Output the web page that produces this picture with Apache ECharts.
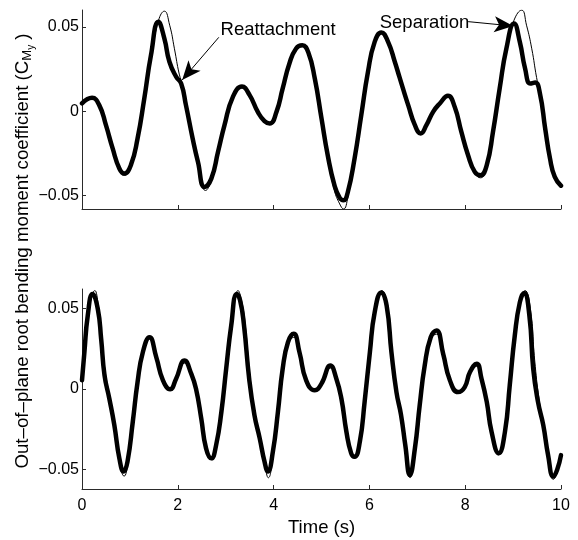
<!DOCTYPE html>
<html>
<head>
<meta charset="utf-8">
<script src="https://cdn.jsdelivr.net/npm/echarts@6/dist/echarts.min.js"></script>
<style>
html,body{margin:0;padding:0;background:#fff;}
#c{width:578px;height:540px;}
</style>
</head>
<body>
<div id="c"></div>
<script>
// ---- data (time s, C_My) ----
const xTicks = [0, 2, 4, 6, 8, 10];
const yTicks = [-0.05, 0, 0.05];

const topThick = [
[0,0.0046],[0.21,0.0079],[0.36,0.0036],[0.5,-0.0083],[0.64,-0.0221],[0.78,-0.034],[0.88,-0.037],
[1.02,-0.032],[1.16,-0.0162],[1.30,0.0075],[1.44,0.0332],[1.595,0.053],[1.72,0.043],[1.825,0.0293],
[1.965,0.0204],[2.07,0.0164],[2.17,0.0036],[2.31,-0.0162],[2.42,-0.030],[2.56,-0.0449],[2.70,-0.040],
[2.84,-0.0241],[2.975,-0.0083],[3.15,0.0085],[3.34,0.0146],[3.50,0.0095],[3.67,-0.0004],[3.81,-0.0059],
[3.92,-0.0073],[4.06,-0.0004],[4.19,0.0135],[4.33,0.0283],[4.47,0.0372],[4.60,0.0391],[4.72,0.0352],
[4.86,0.0194],[5.00,-0.0043],[5.13,-0.0261],[5.27,-0.0439],[5.38,-0.0514],[5.46,-0.0528],[5.55,-0.0479],
[5.69,-0.0281],[5.83,-0.0024],[5.97,0.0233],[6.11,0.0411],[6.25,0.0467],[6.39,0.0411],[6.53,0.0293],
[6.63,0.020],[6.70,0.0135],[6.81,0.0036],[6.95,-0.0083],[7.07,-0.0132],[7.19,-0.0083],[7.33,-0.0004],
[7.47,0.0046],[7.64,0.0091],[7.78,0.0026],[7.92,-0.0123],[8.06,-0.0261],[8.20,-0.036],[8.32,-0.038],
[8.45,-0.032],[8.58,-0.0123],[8.72,0.0135],[8.86,0.0372],[9.02,0.052],[9.14,0.0411],[9.25,0.0253],
[9.36,0.0164],[9.46,0.017],[9.56,0.0105],[9.67,-0.0103],[9.77,-0.028],[9.87,-0.039],[10.0,-0.0442]
];

const topThin = [
[0,0.0046],[0.21,0.0077],[0.36,0.0034],[0.5,-0.0085],[0.64,-0.0225],[0.78,-0.035],[0.88,-0.038],
[1.02,-0.033],[1.16,-0.0175],[1.30,0.005],[1.44,0.031],[1.60,0.054],[1.72,0.0593],[1.83,0.051],
[1.93,0.037],[2.03,0.022],[2.10,0.0155],[2.17,0.0036],[2.31,-0.0165],[2.42,-0.031],[2.58,-0.047],
[2.70,-0.041],[2.84,-0.0245],[2.975,-0.0085],[3.15,0.0083],[3.34,0.0144],[3.50,0.0093],[3.67,-0.0006],
[3.81,-0.0062],[3.92,-0.0076],[4.06,-0.0006],[4.19,0.0133],[4.33,0.0281],[4.47,0.0372],[4.60,0.0393],
[4.72,0.0352],[4.86,0.0192],[5.00,-0.0048],[5.13,-0.0275],[5.27,-0.047],[5.38,-0.055],[5.46,-0.058],
[5.55,-0.051],[5.69,-0.029],[5.83,-0.0028],[5.97,0.0231],[6.11,0.0411],[6.25,0.0472],[6.39,0.0413],
[6.53,0.0293],[6.63,0.020],[6.70,0.0133],[6.81,0.0034],[6.95,-0.0085],[7.07,-0.0134],[7.19,-0.0085],
[7.33,-0.0006],[7.47,0.0044],[7.64,0.0089],[7.78,0.0024],[7.92,-0.0125],[8.06,-0.0265],[8.20,-0.0368],
[8.32,-0.0395],[8.45,-0.033],[8.58,-0.0125],[8.72,0.0133],[8.86,0.0372],[9.02,0.054],[9.18,0.0599],
[9.28,0.051],[9.39,0.037],[9.49,0.020],[9.56,0.0105],[9.67,-0.0105],[9.77,-0.0285],[9.87,-0.040],[10.0,-0.045]
];

const botThick = [
[0,0.0054],[0.05,0.0228],[0.12,0.0455],[0.22,0.0589],[0.33,0.0496],[0.40,0.031],[0.47,0.0085],
[0.57,-0.0059],[0.675,-0.0224],[0.78,-0.043],[0.87,-0.0512],[0.95,-0.045],[1.06,-0.0204],[1.16,0.0043],
[1.27,0.0228],[1.41,0.0321],[1.55,0.0198],[1.69,0.0054],[1.84,-0.0002],[1.965,0.0064],[2.14,0.0177],
[2.28,0.0095],[2.38,0.0002],[2.49,-0.0183],[2.59,-0.0368],[2.70,-0.043],[2.80,-0.0348],[2.91,-0.0142],
[3.01,0.0126],[3.115,0.0393],[3.23,0.0589],[3.30,0.055],[3.38,0.040],[3.49,0.0064],[3.60,-0.0162],
[3.71,-0.0306],[3.81,-0.045],[3.88,-0.0512],[3.985,-0.0389],[4.09,-0.0142],[4.19,0.0126],[4.30,0.029],
[4.42,0.0342],[4.54,0.0228],[4.68,0.0054],[4.86,-0.0008],[5.00,0.0033],[5.185,0.0146],[5.31,0.0064],
[5.415,-0.0059],[5.52,-0.0265],[5.62,-0.0399],[5.69,-0.042],[5.80,-0.0327],[5.90,-0.008],[6.01,0.0228],
[6.11,0.0475],[6.25,0.0599],[6.36,0.0517],[6.46,0.0228],[6.565,-0.002],[6.66,-0.016],[6.75,-0.035],
[6.845,-0.0533],[6.95,-0.0368],[7.05,-0.0101],[7.155,0.0146],[7.28,0.0321],[7.40,0.0362],[7.54,0.0218],
[7.68,0.0054],[7.85,-0.0019],[7.99,0.0012],[8.10,0.0105],[8.24,0.0157],[8.34,0.0064],[8.45,-0.008],
[8.55,-0.0265],[8.70,-0.0399],[8.83,-0.0265],[8.93,0.0023],[9.035,0.0331],[9.14,0.0537],[9.23,0.0595],
[9.34,0.0455],[9.42,0.0126],[9.52,-0.008],[9.63,-0.0224],[9.73,-0.0409],[9.84,-0.0543],[9.92,-0.050],[10,-0.041]
];

const botThin = [
[0,0.0050],[0.05,0.020],[0.12,0.043],[0.27,0.061],[0.34,0.052],[0.40,0.036],[0.47,0.014],
[0.57,-0.004],[0.675,-0.0224],[0.78,-0.044],[0.88,-0.054],[0.96,-0.046],[1.06,-0.021],[1.16,0.0038],
[1.27,0.0222],[1.41,0.031],[1.55,0.0195],[1.69,0.0052],[1.84,-0.0005],[1.965,0.0060],[2.14,0.016],
[2.28,0.0092],[2.38,0.0000],[2.49,-0.0185],[2.59,-0.0372],[2.70,-0.0438],[2.80,-0.035],[2.91,-0.0145],
[3.01,0.0122],[3.12,0.039],[3.26,0.061],[3.33,0.055],[3.40,0.042],[3.50,0.010],[3.60,-0.0150],
[3.71,-0.0306],[3.81,-0.046],[3.89,-0.055],[3.99,-0.040],[4.09,-0.0145],[4.19,0.0122],[4.30,0.028],
[4.42,0.032],[4.54,0.0222],[4.68,0.0050],[4.86,-0.0012],[5.00,0.0030],[5.185,0.013],[5.31,0.0060],
[5.415,-0.0062],[5.52,-0.027],[5.62,-0.0405],[5.69,-0.0428],[5.80,-0.0332],[5.90,-0.0085],[6.01,0.0222],
[6.12,0.0475],[6.26,0.061],[6.37,0.0525],[6.47,0.024],[6.575,-0.001],[6.66,-0.016],[6.75,-0.036],
[6.85,-0.055],[6.95,-0.0372],[7.05,-0.0105],[7.155,0.0142],[7.28,0.031],[7.40,0.034],[7.54,0.0212],
[7.68,0.0050],[7.85,-0.0024],[7.99,0.0008],[8.10,0.0100],[8.24,0.014],[8.34,0.0060],[8.45,-0.0084],
[8.55,-0.027],[8.70,-0.0408],[8.83,-0.027],[8.93,0.0018],[9.04,0.0325],[9.15,0.0535],[9.25,0.061],
[9.36,0.050],[9.45,0.018],[9.54,-0.006],[9.63,-0.0224],[9.73,-0.042],[9.84,-0.056],[9.92,-0.0515],[10,-0.042]
];

// annotation anchors (data coords)
const reattachText = [2.892, 0.0484];
const reattachArrow = [[2.856, 0.0438], [2.091, 0.0185]];
const separationText = [6.216, 0.0523];
const separationArrow = [[8.062, 0.0531], [9.003, 0.0505]];

// ---- chart ----
const FONT = 'Liberation Sans, Arial, Helvetica, sans-serif';
const AX = '#2a2a2a';
const chart = echarts.init(document.getElementById('c'), null, {renderer: 'canvas'});

function xAxis(idx, showLabels) {
  return {
    type: 'value', gridIndex: idx, min: 0, max: 10, interval: 2,
    axisLine: {show: true, onZero: false, lineStyle: {color: AX, width: 1}},
    axisTick: {show: true, inside: true, length: 4, lineStyle: {color: AX}},
    axisLabel: {show: showLabels, color: '#000', fontFamily: FONT, fontSize: 16, margin: 9},
    splitLine: {show: false}
  };
}
function yAxis(idx, lo, hi) {
  return {
    type: 'value', gridIndex: idx, min: lo, max: hi,
    axisLine: {show: true, onZero: false, lineStyle: {color: AX, width: 1}},
    axisTick: {show: true, inside: true, length: 4, lineStyle: {color: AX}, customValues: yTicks},
    axisLabel: {show: true, color: '#000', fontFamily: FONT, fontSize: 16, margin: 3,
      customValues: yTicks,
      formatter: v => (Math.abs(v) < 1e-9 ? '0' : (v < 0 ? '\u2212' + Math.abs(v).toFixed(2) : v.toFixed(2)))},
    splitLine: {show: false}
  };
}
function line(data, xi, w) {
  return {
    type: 'line', xAxisIndex: xi, yAxisIndex: xi, data: data, showSymbol: false, smooth: 0.5,
    lineStyle: {color: '#000', width: w, join: 'round', cap: 'round'}, itemStyle: {color: '#000'},
    silent: true, animation: false
  };
}

const topThickSeries = line(topThick, 0, 4.5);
topThickSeries.markLine = {
  silent: true, animation: false, symbol: ['none', 'arrow'], symbolSize: [12, 19],
  lineStyle: {color: '#000', width: 1, type: 'solid'}, label: {show: false},
  data: [
    [{coord: reattachArrow[0]}, {coord: reattachArrow[1]}],
    [{coord: separationArrow[0]}, {coord: separationArrow[1]}]
  ]
};
topThickSeries.markPoint = {
  silent: true, animation: false, symbol: 'circle', symbolSize: 0,
  label: {show: true, position: 'right', distance: 0, color: '#000', fontFamily: FONT, fontSize: 18.5},
  data: [
    {coord: reattachText, label: {formatter: 'Reattachment'}},
    {coord: separationText, label: {formatter: 'Separation'}}
  ]
};

chart.setOption({
  animation: false,
  backgroundColor: '#fff',
  grid: [
    {left: 82, top: 10, width: 479, height: 199, outerBoundsMode: 'none', containLabel: false},
    {left: 82, top: 289, width: 479, height: 200, outerBoundsMode: 'none', containLabel: false}
  ],
  xAxis: [xAxis(0, false), xAxis(1, true)],
  yAxis: [yAxis(0, -0.058, 0.06), yAxis(1, -0.062, 0.062)],
  series: [
    line(topThin, 0, 1),
    topThickSeries,
    line(botThin, 1, 1),
    line(botThick, 1, 4.5)
  ],
  graphic: [
    {
      type: 'text', left: 288, top: 518,
      style: {text: 'Time (s)', fontFamily: FONT, fontSize: 18.5, fill: '#000'}
    },
    {
      type: 'text', x: 23, y: 251, rotation: Math.PI / 2,
      style: {
        text: 'Out\u2013of\u2013plane root bending moment coefficient (C{m|M}{y|y} )',
        fontFamily: FONT, fontSize: 18.7, fill: '#000',
        align: 'center', verticalAlign: 'middle',
        rich: {
          m: {fontFamily: FONT, fontSize: 13, fill: '#000', padding: [9, 0, 0, 0]},
          y: {fontFamily: FONT, fontSize: 10, fill: '#000', padding: [16, 0, 0, 0]}
        }
      }
    }
  ]
});
</script>
</body>
</html>
